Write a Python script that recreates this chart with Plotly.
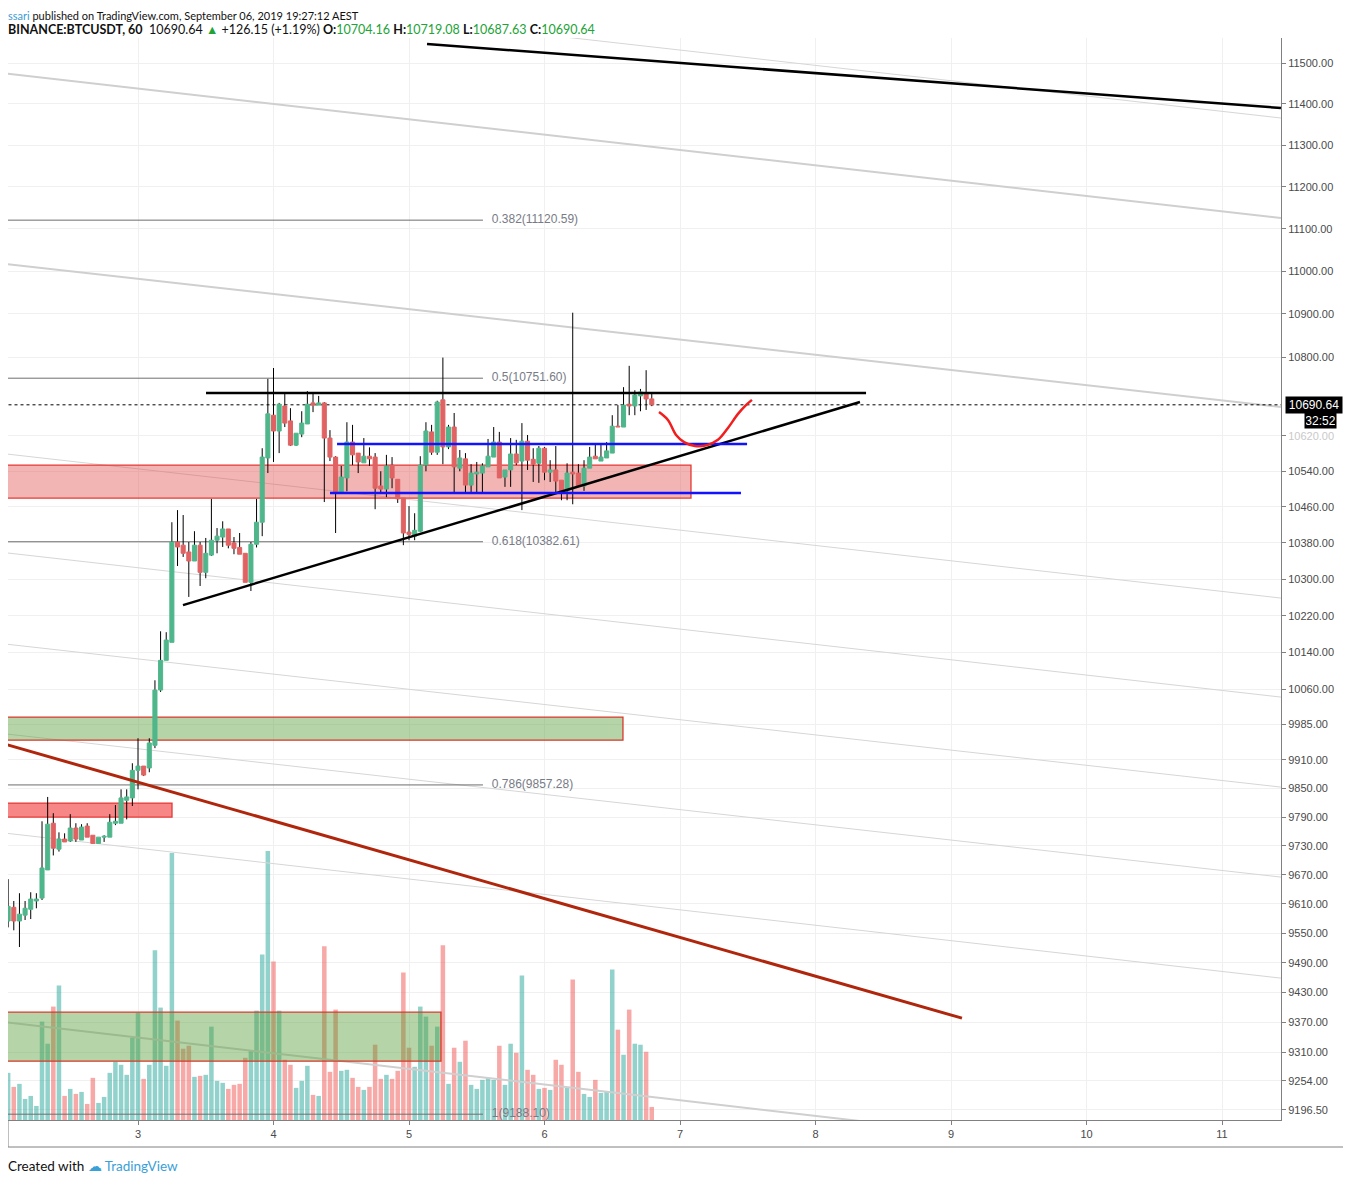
import math
import plotly.graph_objects as go

# BINANCE:BTCUSDT hourly candles, Sep 2 01:00 .. Sep 6 19:00 (AEST)
first_hour = -23  # hours relative to Sep 3 00:00

opens = [9575, 9603, 9575, 9587, 9599, 9616, 9622, 9680, 9777, 9723, 9744, 9740, 9767, 9742, 9771, 9752,
         9735, 9748, 9748, 9777, 9777, 9825, 9830,
         9888, 9897, 9893, 9941, 10059, 10123, 10162, 10382, 10375, 10360, 10340, 10375, 10315, 10353, 10386,
         10393, 10411, 10380, 10370, 10357, 10293, 10377, 10426, 10570,
         10667, 10631, 10688, 10654, 10599, 10624, 10647, 10695, 10690, 10695, 10615, 10572, 10491, 10525,
         10606, 10581, 10559, 10574, 10572, 10507, 10500, 10554, 10522, 10480,
         10404, 10395, 10406, 10554, 10629, 10583, 10702, 10595, 10640, 10547, 10568, 10509, 10534, 10536,
         10550, 10572, 10606, 10527, 10543, 10579, 10563, 10608, 10567, 10558,
         10592, 10538, 10543, 10520, 10496, 10538, 10536, 10507, 10547, 10574, 10563, 10570, 10581, 10642,
         10640, 10692, 10688, 10711, 10718, 10704.16]
highs = [9661, 9616, 9632, 9616, 9634, 9632, 9781, 9832, 9798, 9758, 9756, 9796, 9777, 9775, 9777, 9752,
         9748, 9752, 9796, 9815, 9848, 9848, 9903,
         9956, 9897, 9956, 10080, 10186, 10184, 10426, 10453, 10442, 10382, 10406, 10382, 10391, 10478, 10413,
         10428, 10411, 10393, 10402, 10357, 10382, 10478, 10592, 10750,
         10775, 10695, 10718, 10683, 10626, 10676, 10722, 10718, 10711, 10697, 10633, 10574, 10552, 10651,
         10645, 10581, 10615, 10594, 10581, 10540, 10577, 10572, 10522, 10480,
         10462, 10446, 10574, 10651, 10645, 10700, 10799, 10645, 10672, 10588, 10581, 10556, 10561, 10558,
         10613, 10640, 10629, 10543, 10615, 10611, 10649, 10622, 10592, 10597,
         10595, 10565, 10597, 10520, 10558, 10903, 10556, 10565, 10595, 10602, 10602, 10606, 10667, 10690,
         10731, 10780, 10724, 10727, 10770, 10719.08]
lows = [9562, 9556, 9522, 9577, 9579, 9601, 9618, 9680, 9710, 9718, 9738, 9738, 9738, 9742, 9748, 9735,
        9735, 9738, 9748, 9773, 9777, 9785, 9813,
        9848, 9876, 9884, 9935, 10055, 10123, 10162, 10329, 10349, 10261, 10340, 10285, 10302, 10351, 10357,
        10371, 10368, 10355, 10355, 10293, 10274, 10370, 10395, 10536,
        10561, 10581, 10640, 10597, 10597, 10617, 10647, 10674, 10690, 10471, 10563, 10402, 10491, 10495,
        10554, 10536, 10559, 10552, 10455, 10489, 10482, 10502, 10469, 10375,
        10386, 10386, 10404, 10540, 10577, 10577, 10556, 10590, 10489, 10540, 10491, 10491, 10491, 10491,
        10550, 10572, 10525, 10505, 10505, 10554, 10453, 10543, 10516, 10514,
        10520, 10516, 10489, 10475, 10475, 10466, 10505, 10496, 10547, 10568, 10563, 10570, 10581, 10640,
        10640, 10667, 10667, 10676, 10679, 10687.63]
closes = [9605, 9575, 9589, 9601, 9620, 9620, 9684, 9775, 9725, 9744, 9738, 9767, 9744, 9769, 9748, 9735,
          9748, 9750, 9779, 9781, 9830, 9832, 9888,
          9897, 9878, 9946, 10059, 10123, 10167, 10382, 10371, 10357, 10340, 10375, 10315, 10357, 10386, 10395,
          10411, 10375, 10368, 10355, 10293, 10377, 10426, 10572, 10670,
          10631, 10692, 10649, 10599, 10626, 10649, 10692, 10690, 10695, 10615, 10572, 10491, 10527, 10606,
          10577, 10561, 10574, 10568, 10502, 10500, 10552, 10525, 10478, 10402,
          10399, 10408, 10554, 10631, 10583, 10697, 10595, 10640, 10550, 10570, 10509, 10536, 10538, 10552,
          10574, 10606, 10525, 10543, 10579, 10559, 10608, 10565, 10556, 10592,
          10538, 10543, 10518, 10496, 10536, 10534, 10507, 10547, 10572, 10568, 10572, 10586, 10642, 10640,
          10690, 10688, 10713, 10720, 10704, 10690.64]
volumes = [470, 330, 360, 210, 240, 140, 980, 760, 1130, 1340, 240, 310, 260, 280, 160, 420,
           170, 230, 470, 580, 550, 450, 820,
           1070, 410, 550, 1690, 1120, 540, 2660, 990, 710, 740, 430, 440, 450, 930, 390,
           370, 310, 350, 360, 620, 690, 1090, 1650, 2680,
           1580, 1090, 600, 550, 320, 390, 540, 250, 240, 1730, 480, 1100, 490, 500,
           420, 330, 300, 330, 750, 410, 450, 410, 490, 1470,
           720, 530, 1130, 1030, 740, 930, 1740, 360, 720, 580, 790, 350, 310, 400,
           420, 400, 740, 350, 760, 670, 1440, 500, 450, 310,
           320, 300, 600, 550, 320, 1400, 480, 260, 230, 400, 270, 280, 1500, 900,
           650, 1100, 760, 750, 680, 130]

times = [3 + (first_hour + k) / 24 for k in range(len(opens))]

price_ticks = [11500, 11400, 11300, 11200, 11100, 11000, 10900, 10800, 10620, 10540, 10460, 10380, 10300,
               10220, 10140, 10060, 9985, 9910, 9850, 9790, 9730, 9670, 9610, 9550, 9490, 9430, 9370,
               9310, 9254, 9196.5]
day_ticks = [3, 4, 5, 6, 7, 8, 9, 10, 11]

# fibonacci retracement levels
fib_ratios = ["0.382", "0.5", "0.618", "0.786", "1"]
fib_prices = [11120.59, 10751.60, 10382.61, 9857.28, 9188.10]
fib_end_day = 5.546

# drawings: (day0, price0, day1, price1)
channel_thick = [(2.0, 11475.0, 11.435, 11125.6), (2.0, 11018.0, 11.435, 10685.6),
                 (2.0, 9371.0, 11.435, 9079.8)]
channel_thin = [(2.0, 11722.0, 11.435, 11365.8), (2.0, 10580.0, 11.435, 10258.5),
                (2.0, 10359.0, 11.435, 10043.9), (2.0, 10159.0, 11.435, 9852.7),
                (2.0, 9966.0, 11.435, 9665.2), (2.0, 9757.0, 11.435, 9458.9)]
black_lines = [(5.133, 11546.8, 11.435, 11390.0), (3.502, 10717.5, 8.373, 10717.5),
               (3.332, 10243.1, 8.328, 10697.0)]
blue_lines = [(4.469, 10601.4, 7.495, 10601.4), (4.417, 10491.1, 7.450, 10491.1)]
brown_line = (2.0, 9945.0, 9.081, 9378.5)
curve_days = [6.845, 6.911, 6.971, 7.030, 7.111, 7.199, 7.280, 7.354, 7.428, 7.487, 7.531]
curve_prices = [10674, 10656, 10622, 10606, 10597, 10599, 10611, 10638, 10670, 10690, 10702]

# zones: (day0, day1, price_low, price_high)
pink_zone = (2.0, 7.081, 10479.8, 10554.0)
red_zone = (2.0, 3.251, 9789.8, 9819.1)
green_zones = [(2.0, 6.579, 9952.0, 10001.1), (2.0, 5.236, 9292.7, 9390.4)]

UP, DOWN = "#4fb68b", "#e06262"
FONT = "Liberation Sans, Arial, sans-serif"
HEAD = "Lato, Roboto, sans-serif"

# plot area geometry in page pixels (page body has an 8px margin)
PW, PH = 1273, 1082

fig = go.Figure()

# volume on the hidden primary axis
vol_colors = ["rgba(38,166,154,0.5)" if c >= o else "rgba(239,83,80,0.5)" for o, c in zip(opens, closes)]
fig.add_trace(go.Bar(x=times, y=volumes, width=0.8 / 24, marker=dict(color=vol_colors, line_width=0),
                     yaxis="y", hoverinfo="skip"))


def seg(x0, y0, x1, y1, color, width, dash="solid"):
    fig.add_trace(go.Scatter(x=[x0, x1], y=[y0, y1], mode="lines", yaxis="y2", hoverinfo="skip",
                             line=dict(color=color, width=width, dash=dash)))


def zone(z, fill, border):
    d0, d1, lo, hi = z
    fig.add_trace(go.Scatter(x=[d0, d1, d1, d0, d0], y=[lo, lo, hi, hi, lo], mode="lines", fill="toself",
                             fillcolor=fill, line=dict(color=border, width=1.3), yaxis="y2",
                             hoverinfo="skip"))


# channel lines
for d0, p0, d1, p1 in channel_thin:
    seg(d0, p0, d1, p1, "#d6d6d6", 1)
for d0, p0, d1, p1 in channel_thick:
    seg(d0, p0, d1, p1, "#cfcfcf", 2)

zone(pink_zone, "rgba(226,76,76,0.42)", "#e53935")
zone(red_zone, "rgba(242,54,54,0.6)", "#e53935")
for z in green_zones:
    zone(z, "rgba(90,160,60,0.45)", "#d9392c")

# fib levels
for p in fib_prices:
    seg(2.0, p, fib_end_day, p, "#6e6e6e", 1)
fig.add_trace(go.Scatter(x=[fib_end_day + 0.065] * len(fib_prices), y=fib_prices, mode="text",
                         text=[f"{r}({p:.2f})" for r, p in zip(fib_ratios, fib_prices)],
                         textposition="middle right", textfont=dict(family=FONT, size=12, color="#787b86"),
                         yaxis="y2", hoverinfo="skip"))

# current price dotted line
seg(2.0, closes[-1], 11.5, closes[-1], "#000000", 1, "dot")

# candles: wicks then bodies
hw = 0.36 / 24
wx, wy = [], []
for t, o, h, l, c in zip(times, opens, highs, lows, closes):
    top, bot = max(o, c), min(o, c)
    if h > top:
        wx += [t, t, None]
        wy += [top, h, None]
    if l < bot:
        wx += [t, t, None]
        wy += [l, bot, None]
fig.add_trace(go.Scatter(x=wx, y=wy, mode="lines", line=dict(color="#000000", width=1), yaxis="y2",
                         hoverinfo="skip"))

for up, col in [(True, UP), (False, DOWN)]:
    bx, by = [], []
    for t, o, c in zip(times, opens, closes):
        if (c >= o) != up:
            continue
        lo, hi = min(o, c), max(o, c)
        bx += [t - hw, t + hw, t + hw, t - hw, t - hw, None]
        by += [lo, lo, hi, hi, lo, None]
    fig.add_trace(go.Scatter(x=bx, y=by, mode="lines", fill="toself", fillcolor=col,
                             line=dict(color=col, width=1), yaxis="y2", hoverinfo="skip"))

# drawings on top
for d0, p0, d1, p1 in black_lines:
    seg(d0, p0, d1, p1, "#000000", 2.5)
for d0, p0, d1, p1 in blue_lines:
    seg(d0, p0, d1, p1, "#1212ff", 2.5)
seg(*brown_line, "#b0260c", 3)
fig.add_trace(go.Scatter(x=curve_days, y=curve_prices, mode="lines", line=dict(color="#f21d1d", width=2.5,
                         shape="spline"), yaxis="y2", hoverinfo="skip"))

lo_log, hi_log = math.log10(9176.7), math.log10(11561.6)
tick_text = [f"{p:.2f}" for p in price_ticks]
tick_text[price_ticks.index(10620)] = "<span style='color:#c9c9c9'>10620.00</span>"

fig.update_layout(
    width=1343, height=1172,
    margin=dict(l=0, r=70, t=30, b=60),
    plot_bgcolor="white", paper_bgcolor="white",
    showlegend=False, barmode="overlay",
    font=dict(family=FONT, size=11, color="#4a4a4a"),
    xaxis=dict(range=[2.0406, 11.4354], tickvals=day_ticks, ticktext=[str(d) for d in day_ticks],
               showgrid=True, gridcolor="#f0f0f0", zeroline=False, showline=True, linecolor="#808080",
               ticks="outside", ticklen=4, tickcolor="#808080", tickfont=dict(size=11, color="#4a4a4a")),
    yaxis=dict(range=[0, 10780], showgrid=False, zeroline=False, showticklabels=False, showline=True,
               linecolor="#808080", side="left"),
    yaxis2=dict(type="log", range=[lo_log, hi_log], overlaying="y", side="right",
                tickvals=price_ticks, ticktext=tick_text, showgrid=True, gridcolor="#f0f0f0",
                zeroline=False, showline=True, linecolor="#808080", ticks="outside", ticklen=4,
                tickcolor="#808080", tickfont=dict(size=11, color="#4a4a4a")),
)

# outer frame around price/time scales
frame_b = -27 / PH
frame_r = (1345 - 8) / PW
fig.add_shape(type="line", xref="paper", yref="paper", x0=0, x1=frame_r, y0=frame_b, y1=frame_b,
              line=dict(color="#808080", width=1))
fig.add_shape(type="line", xref="paper", yref="paper", x0=0, x1=0, y0=frame_b, y1=0,
              line=dict(color="#808080", width=1))
fig.add_shape(type="line", xref="paper", yref="paper", x0=frame_r, x1=frame_r, y0=frame_b, y1=1,
              line=dict(color="#808080", width=1))

# price and countdown labels
fig.add_annotation(xref="paper", yref="y2", x=(1285 - 8) / PW, y=math.log10(closes[-1]), xanchor="left",
                   yanchor="middle", text="10690.64", showarrow=False, bgcolor="#000000",
                   font=dict(family=FONT, size=12, color="white"), width=54, height=14, borderpad=1)
fig.add_annotation(xref="paper", yref="paper", x=(1304 - 8) / PW, y=(1120 - 420.5) / PH, xanchor="left",
                   yanchor="middle", text="32:52", showarrow=False, bgcolor="#000000",
                   font=dict(family=FONT, size=12, color="white"), width=29, height=13, borderpad=1)

# header
GREEN = "#21a336"
fig.add_annotation(xref="paper", yref="paper", x=0, y=(1120 - 16) / PH, xanchor="left", yanchor="middle",
                   xshift=-2, showarrow=False, font=dict(family=HEAD, size=11, color="#111111"),
                   text="<span style='color:#3d9bd6'>ssari</span> published on TradingView.com, "
                        "September 06, 2019 19:27:12 AEST")
fig.add_annotation(xref="paper", yref="paper", x=0, y=(1120 - 30) / PH, xanchor="left", yanchor="middle",
                   xshift=-2, showarrow=False, font=dict(family=HEAD, size=12.5, color="#111111"),
                   text=f"<b>BINANCE:BTCUSDT, 60</b>  10690.64 <span style='color:{GREEN}'>▲</span> "
                        f"+126.15 (+1.19%) <b>O:</b><span style='color:{GREEN}'>10704.16</span> "
                        f"<b>H:</b><span style='color:{GREEN}'>10719.08</span> "
                        f"<b>L:</b><span style='color:{GREEN}'>10687.63</span> "
                        f"<b>C:</b><span style='color:{GREEN}'>10690.64</span>")

# footer
fig.add_annotation(xref="paper", yref="paper", x=0, y=(1120 - 1166) / PH, xanchor="left",
                   yanchor="middle", xshift=-2, showarrow=False,
                   font=dict(family=HEAD, size=13.5, color="#111111"),
                   text="Created with <span style='color:#3aa0d8'>☁ TradingView</span>")

fig.write_html("out.html")
